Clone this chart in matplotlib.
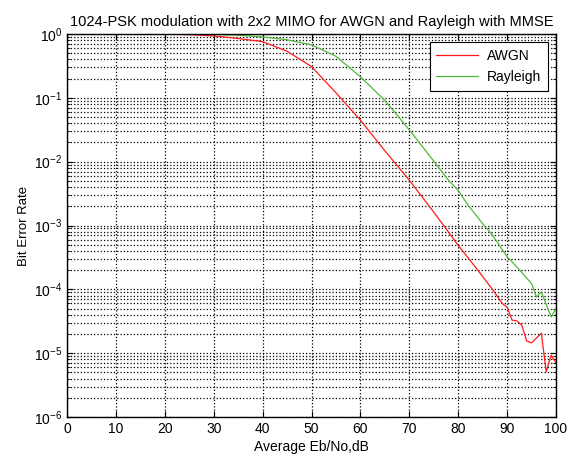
import matplotlib
matplotlib.use("Agg")
import matplotlib.pyplot as plt
from matplotlib.ticker import LogLocator, NullFormatter, MultipleLocator

plt.rcParams['font.family'] = ['Liberation Sans', 'DejaVu Sans']
plt.rcParams['mathtext.fontset'] = 'custom'
plt.rcParams['mathtext.rm'] = 'Liberation Sans'
plt.rcParams['mathtext.it'] = 'Liberation Sans'

title = "1024-PSK modulation with 2x2 MIMO for AWGN and Rayleigh with MMSE"
xlabel = "Average Eb/No,dB"
ylabel = "Bit Error Rate"

awgn_x = [0, 10, 20, 25, 30, 35, 40, 45, 50, 55, 60, 65, 70, 75, 80, 84, 87, 89, 90,
          91, 92, 93, 94, 95, 97, 98, 99, 100]
awgn_ber = [1.0, 1.0, 0.993, 0.977, 0.933, 0.851, 0.759, 0.537, 0.309, 0.120, 0.0447,
            0.0148, 5.13e-3, 1.62e-3, 4.90e-4, 2.0e-4, 1.0e-4, 6.0e-5, 5.25e-5,
            3.3e-5, 3.2e-5, 2.75e-5, 1.55e-5, 1.45e-5, 2.05e-5, 5.1e-6, 9.3e-6, 7.1e-6]

ray_x = [0, 10, 20, 30, 35, 40, 45, 50, 55, 60, 65, 70, 75, 78, 80, 82, 85, 87, 90,
         92, 95, 96, 97, 99, 100]
ray_ber = [1.0, 1.0, 1.0, 0.989, 0.955, 0.902, 0.813, 0.676, 0.447, 0.214, 0.0912,
           0.0316, 0.0102, 5.13e-3, 3.55e-3, 2.09e-3, 1.07e-3, 7.1e-4, 3.24e-4,
           2.24e-4, 1.23e-4, 7.6e-5, 9.1e-5, 3.7e-5, 5.0e-5]

fig = plt.figure(figsize=(5.76, 4.57), dpi=100)
ax = fig.add_axes([67/576, 40/457, 489/576, 383/457])

ax.semilogy(awgn_x, awgn_ber, color='#ff1a1a', lw=0.9, label='AWGN')
ax.semilogy(ray_x, ray_ber, color='#4fb83a', lw=0.9, label='Rayleigh')

ax.set_xlim(0, 100)
ax.set_ylim(1e-6, 1)
ax.xaxis.set_major_locator(MultipleLocator(10))
ax.yaxis.set_major_locator(LogLocator(base=10, numticks=10))
ax.yaxis.set_minor_locator(LogLocator(base=10, subs=range(2, 10), numticks=20))
ax.yaxis.set_minor_formatter(NullFormatter())

ax.grid(True, which='major', color='k', linestyle=':', linewidth=0.9)
ax.grid(True, which='minor', axis='y', color='k', linestyle=':', linewidth=0.9)

ax.tick_params(which='both', direction='in', top=True, right=True, labelsize=10)
ax.tick_params(which='major', length=4)
ax.tick_params(which='minor', length=2)
for s in ax.spines.values():
    s.set_linewidth(1.0)

ax.set_title(title, fontsize=10.5, pad=6)
ax.set_xlabel(xlabel, fontsize=10, labelpad=3)
ax.set_ylabel(ylabel, fontsize=9.5)
ax.yaxis.set_label_coords(-(67 - 30) / 489, 0.5)

leg = ax.legend(loc='upper right', fontsize=10, fancybox=False, framealpha=1,
                edgecolor='k', borderaxespad=0.6, handlelength=3.0,
                borderpad=0.5, labelspacing=0.5, handletextpad=0.6)
leg.get_frame().set_linewidth(0.8)

fig.savefig('out.png', dpi=100)
